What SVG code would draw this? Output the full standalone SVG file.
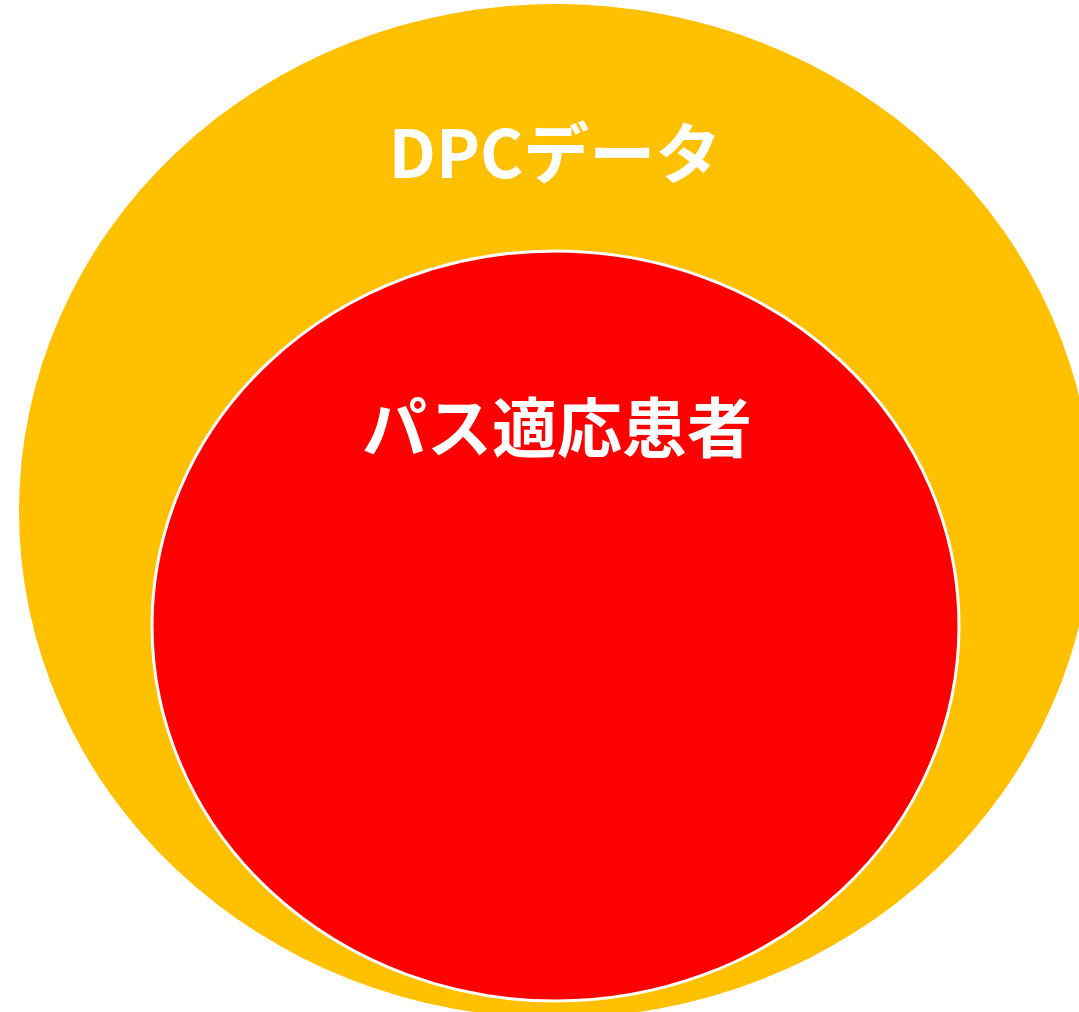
<svg xmlns="http://www.w3.org/2000/svg" width="1079" height="1012" viewBox="0 0 1079 1012">
<style>
.lbl{font-family:"Noto Sans CJK JP","Noto Sans",sans-serif;font-weight:bold;fill:#ffffff;text-anchor:middle}
</style>
<rect width="1079" height="1012" fill="#ffffff"/>
<g id="dpc">
<ellipse cx="556" cy="511" rx="537" ry="507" fill="#ffc000"/>
<text class="lbl" x="555" y="178" font-size="66">DPCデータ</text>
</g>
<g id="path-patients">
<ellipse cx="555.5" cy="626" rx="403.5" ry="375" fill="#ff0000" stroke="#ffffff" stroke-width="3"/>
<text class="lbl" x="557" y="452" font-size="65">パス適応患者</text>
</g>
<g id="connectors"></g>
</svg>
